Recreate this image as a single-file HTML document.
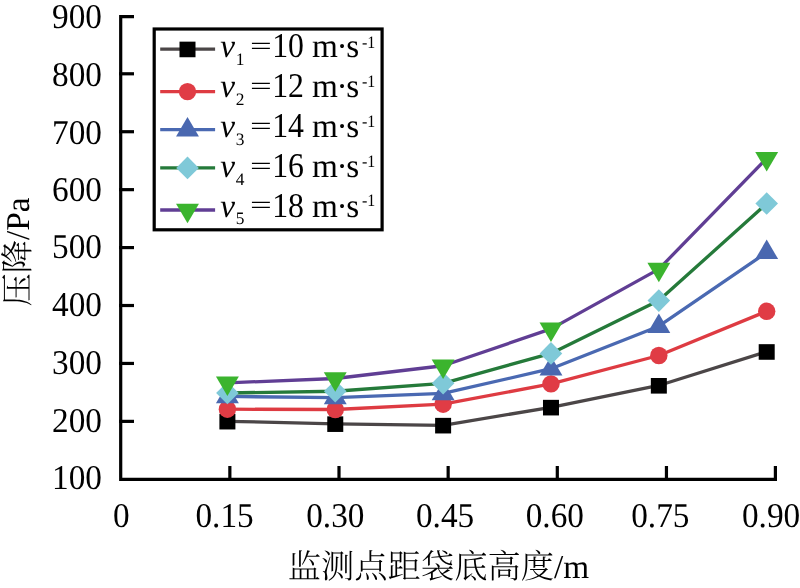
<!DOCTYPE html>
<html lang="zh"><head><meta charset="utf-8"><title>压降</title>
<style>
html,body{margin:0;padding:0;background:#fff;}
body{width:800px;height:588px;overflow:hidden;}
svg{display:block;}
text{font-family:"Liberation Serif","Noto Serif CJK SC",serif;fill:#000;text-rendering:geometricPrecision;}
.cjk{font-family:"Liberation Serif","Noto Serif CJK SC",serif;font-weight:300;}
.it{font-style:italic;}
</style></head><body>
<svg width="800" height="588" viewBox="0 0 800 588">
<rect width="800" height="588" fill="#fff"/>

<g stroke="#000" stroke-width="3.2" fill="none" stroke-linecap="butt">
<path d="M134,16.6 H120.7 V479.3 H775.4 V466"/>
<path d="M119.1,421.37 H134"/>
<path d="M119.1,363.44 H134"/>
<path d="M119.1,305.51 H134"/>
<path d="M119.1,247.58 H134"/>
<path d="M119.1,189.65 H134"/>
<path d="M119.1,131.72 H134"/>
<path d="M119.1,73.79 H134"/>
<path d="M229.85,480.9 V466"/>
<path d="M339.00,480.9 V466"/>
<path d="M448.15,480.9 V466"/>
<path d="M557.30,480.9 V466"/>
<path d="M666.45,480.9 V466"/>
</g>
<text transform="translate(102.00,489.25) scale(1,1.045)" font-size="33.3" text-anchor="end">100</text>
<text transform="translate(102.00,431.62) scale(1,1.045)" font-size="33.3" text-anchor="end">200</text>
<text transform="translate(102.00,374.34) scale(1,1.045)" font-size="33.3" text-anchor="end">300</text>
<text transform="translate(102.00,316.36) scale(1,1.045)" font-size="33.3" text-anchor="end">400</text>
<text transform="translate(102.00,258.48) scale(1,1.045)" font-size="33.3" text-anchor="end">500</text>
<text transform="translate(102.00,201.10) scale(1,1.045)" font-size="33.3" text-anchor="end">600</text>
<text transform="translate(102.00,143.87) scale(1,1.045)" font-size="33.3" text-anchor="end">700</text>
<text transform="translate(102.00,85.94) scale(1,1.045)" font-size="33.3" text-anchor="end">800</text>
<text transform="translate(102.00,27.61) scale(1,1.045)" font-size="33.3" text-anchor="end">900</text>
<text transform="translate(121.30,527.40) scale(1,1.045)" font-size="33.3" text-anchor="middle">0</text>
<text transform="translate(224.55,527.40) scale(1,1.045)" font-size="33.3" text-anchor="middle">0.15</text>
<text transform="translate(335.30,527.40) scale(1,1.045)" font-size="33.3" text-anchor="middle">0.30</text>
<text transform="translate(445.05,527.40) scale(1,1.045)" font-size="33.3" text-anchor="middle">0.45</text>
<text transform="translate(554.80,527.40) scale(1,1.045)" font-size="33.3" text-anchor="middle">0.60</text>
<text transform="translate(660.35,527.40) scale(1,1.045)" font-size="33.3" text-anchor="middle">0.75</text>
<text transform="translate(771.10,527.40) scale(1,1.045)" font-size="33.3" text-anchor="middle">0.90</text>
<text class="cjk" x="438.5" y="577.5" font-size="33.3" text-anchor="middle">监测点距袋底高度/m</text>
<text class="cjk" transform="translate(28.5,252) rotate(-90)" font-size="33.3" text-anchor="middle">压降/Pa</text>
<polyline points="227.40,421.31 335.26,423.80 443.12,425.31 550.98,407.29 658.84,385.45 766.70,351.62" fill="none" stroke="#4b4647" stroke-width="3.3" stroke-linejoin="round"/>
<rect x="219.40" y="413.86" width="16" height="15.6" fill="#000000"/>
<rect x="327.26" y="416.35" width="16" height="15.6" fill="#000000"/>
<rect x="435.12" y="417.86" width="16" height="15.6" fill="#000000"/>
<rect x="542.98" y="399.84" width="16" height="15.6" fill="#000000"/>
<rect x="650.84" y="378.00" width="16" height="15.6" fill="#000000"/>
<rect x="758.70" y="344.17" width="16" height="15.6" fill="#000000"/>
<polyline points="227.40,409.20 335.26,409.49 443.12,404.22 550.98,383.89 658.84,355.50 766.70,311.30" fill="none" stroke="#de3b42" stroke-width="3.3" stroke-linejoin="round"/>
<circle cx="227.40" cy="409.20" r="8.7" fill="#e03c45"/>
<circle cx="335.26" cy="409.49" r="8.7" fill="#e03c45"/>
<circle cx="443.12" cy="404.22" r="8.7" fill="#e03c45"/>
<circle cx="550.98" cy="383.89" r="8.7" fill="#e03c45"/>
<circle cx="658.84" cy="355.50" r="8.7" fill="#e03c45"/>
<circle cx="766.70" cy="311.30" r="8.7" fill="#e03c45"/>
<polyline points="227.40,396.46 335.26,397.62 443.12,393.45 550.98,368.71 658.84,326.19 766.70,252.39" fill="none" stroke="#4a69b2" stroke-width="3.3" stroke-linejoin="round"/>
<polygon points="215.95,403.16 238.85,403.16 227.40,383.66" fill="#4a68b0"/>
<polygon points="323.81,404.32 346.71,404.32 335.26,384.82" fill="#4a68b0"/>
<polygon points="431.67,400.15 454.57,400.15 443.12,380.65" fill="#4a68b0"/>
<polygon points="539.53,375.41 562.43,375.41 550.98,355.91" fill="#4a68b0"/>
<polygon points="647.39,332.89 670.29,332.89 658.84,313.39" fill="#4a68b0"/>
<polygon points="755.25,259.09 778.15,259.09 766.70,239.59" fill="#4a68b0"/>
<polyline points="227.40,392.98 335.26,391.25 443.12,383.31 550.98,353.42 658.84,300.59 766.70,203.55" fill="none" stroke="#257a3a" stroke-width="3.3" stroke-linejoin="round"/>
<polygon points="216.10,392.98 227.40,381.68 238.70,392.98 227.40,404.28" fill="#7fc9d8"/>
<polygon points="323.96,391.25 335.26,379.95 346.56,391.25 335.26,402.55" fill="#7fc9d8"/>
<polygon points="431.82,383.31 443.12,372.01 454.42,383.31 443.12,394.61" fill="#7fc9d8"/>
<polygon points="539.68,353.42 550.98,342.12 562.28,353.42 550.98,364.72" fill="#7fc9d8"/>
<polygon points="647.54,300.59 658.84,289.29 670.14,300.59 658.84,311.89" fill="#7fc9d8"/>
<polygon points="755.40,203.55 766.70,192.25 778.00,203.55 766.70,214.85" fill="#7fc9d8"/>
<polyline points="227.40,382.85 335.26,378.50 443.12,365.76 550.98,328.91 658.84,269.07 766.70,158.37" fill="none" stroke="#603e94" stroke-width="3.3" stroke-linejoin="round"/>
<polygon points="215.95,376.55 238.85,376.55 227.40,396.05" fill="#3bb42e"/>
<polygon points="323.81,372.20 346.71,372.20 335.26,391.70" fill="#3bb42e"/>
<polygon points="431.67,359.46 454.57,359.46 443.12,378.96" fill="#3bb42e"/>
<polygon points="539.53,322.61 562.43,322.61 550.98,342.11" fill="#3bb42e"/>
<polygon points="647.39,262.77 670.29,262.77 658.84,282.27" fill="#3bb42e"/>
<polygon points="755.25,152.07 778.15,152.07 766.70,171.57" fill="#3bb42e"/>
<rect x="154.2" y="29" width="227.9" height="200.8" fill="#fff" stroke="#000" stroke-width="3.2"/>
<line x1="160.2" y1="49.1" x2="215.1" y2="49.1" stroke="#4b4647" stroke-width="3.3"/>
<rect x="179.50" y="41.65" width="16" height="15.6" fill="#000000"/>
<text x="220.3" y="57.1" font-size="33.3" class="it">v</text>
<text x="235.8" y="64.90" font-size="17.4">1</text>
<text transform="translate(260.8,45.10) scale(1.16,0.74) translate(-260.8,-45.10)" x="251.4" y="57.1" font-size="33.3">=</text>
<text transform="translate(272.2,57.1) scale(0.955,1.045)" font-size="33.3">10</text>
<text x="311.9" y="57.1" font-size="33.3">m</text>
<text x="336.4" y="57.1" font-size="33.3">·</text>
<text x="346.3" y="57.1" font-size="33.3">s</text>
<text transform="translate(362,47.6) scale(0.92,1)" font-size="17.4">-1</text>
<line x1="160.2" y1="91.6" x2="215.1" y2="91.6" stroke="#de3b42" stroke-width="3.3"/>
<circle cx="187.50" cy="91.60" r="8.7" fill="#e03c45"/>
<text x="220.3" y="97.0" font-size="33.3" class="it">v</text>
<text x="235.8" y="104.80" font-size="17.4">2</text>
<text transform="translate(260.8,85.00) scale(1.16,0.74) translate(-260.8,-85.00)" x="251.4" y="97.0" font-size="33.3">=</text>
<text transform="translate(272.2,97.0) scale(0.955,1.045)" font-size="33.3">12</text>
<text x="311.9" y="97.0" font-size="33.3">m</text>
<text x="336.4" y="97.0" font-size="33.3">·</text>
<text x="346.3" y="97.0" font-size="33.3">s</text>
<text transform="translate(362,87.4) scale(0.92,1)" font-size="17.4">-1</text>
<line x1="160.2" y1="129.7" x2="215.1" y2="129.7" stroke="#4a69b2" stroke-width="3.3"/>
<polygon points="176.05,136.40 198.95,136.40 187.50,116.90" fill="#4a68b0"/>
<text x="220.3" y="136.8" font-size="33.3" class="it">v</text>
<text x="235.8" y="144.60" font-size="17.4">3</text>
<text transform="translate(260.8,124.80) scale(1.16,0.74) translate(-260.8,-124.80)" x="251.4" y="136.8" font-size="33.3">=</text>
<text transform="translate(272.2,136.8) scale(0.955,1.045)" font-size="33.3">14</text>
<text x="311.9" y="136.8" font-size="33.3">m</text>
<text x="336.4" y="136.8" font-size="33.3">·</text>
<text x="346.3" y="136.8" font-size="33.3">s</text>
<text transform="translate(362,126.65) scale(0.92,1)" font-size="17.4">-1</text>
<line x1="160.2" y1="167.9" x2="215.1" y2="167.9" stroke="#257a3a" stroke-width="3.3"/>
<polygon points="176.20,167.90 187.50,156.60 198.80,167.90 187.50,179.20" fill="#7fc9d8"/>
<text x="220.3" y="176.8" font-size="33.3" class="it">v</text>
<text x="235.8" y="184.60" font-size="17.4">4</text>
<text transform="translate(260.8,164.80) scale(1.16,0.74) translate(-260.8,-164.80)" x="251.4" y="176.8" font-size="33.3">=</text>
<text transform="translate(272.2,176.8) scale(0.955,1.045)" font-size="33.3">16</text>
<text x="311.9" y="176.8" font-size="33.3">m</text>
<text x="336.4" y="176.8" font-size="33.3">·</text>
<text x="346.3" y="176.8" font-size="33.3">s</text>
<text transform="translate(362,166.55) scale(0.92,1)" font-size="17.4">-1</text>
<line x1="160.2" y1="210" x2="215.1" y2="210" stroke="#603e94" stroke-width="3.3"/>
<polygon points="176.05,203.70 198.95,203.70 187.50,223.20" fill="#3bb42e"/>
<text x="220.3" y="216.6" font-size="33.3" class="it">v</text>
<text x="235.8" y="224.40" font-size="17.4">5</text>
<text transform="translate(260.8,204.60) scale(1.16,0.74) translate(-260.8,-204.60)" x="251.4" y="216.6" font-size="33.3">=</text>
<text transform="translate(272.2,216.6) scale(0.955,1.045)" font-size="33.3">18</text>
<text x="311.9" y="216.6" font-size="33.3">m</text>
<text x="336.4" y="216.6" font-size="33.3">·</text>
<text x="346.3" y="216.6" font-size="33.3">s</text>
<text transform="translate(362,205.75) scale(0.92,1)" font-size="17.4">-1</text>
</svg></body></html>
